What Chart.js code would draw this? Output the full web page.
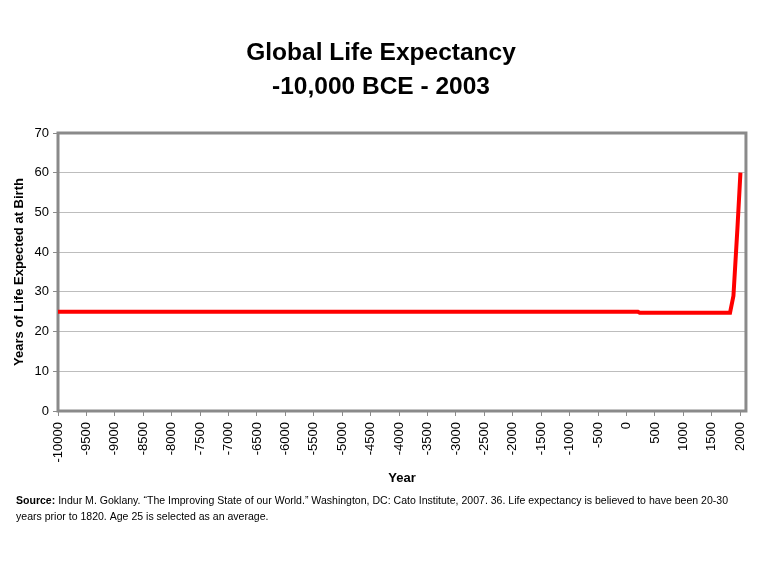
<!DOCTYPE html>
<html>
<head>
<meta charset="utf-8">
<title>Global Life Expectancy</title>
<script src="https://cdn.jsdelivr.net/npm/chart.js@4.4.1/dist/chart.umd.min.js"></script>
<style>
  html, body { margin: 0; padding: 0; background: #fff; }
  canvas { display: block; }
</style>
</head>
<body>
<canvas id="lifeChart" width="762" height="569"></canvas>
<script>
// Data
const years = [-10000, 200, 230, 1820, 1880, 1950, 2003];
const lifeExpectancy = [25, 25, 24.75, 24.75, 29, 46, 60];
const xTickValues = [-10000, -9500, -9000, -8500, -8000, -7500, -7000, -6500, -6000, -5500,
    -5000, -4500, -4000, -3500, -3000, -2500, -2000, -1500, -1000, -500,
    0, 500, 1000, 1500, 2000];
const yTickStep = 10;

const titleLines = ['Global Life Expectancy', '-10,000 BCE - 2003'];
const sourceLabel = 'Source:';
const sourceLine1 = ' Indur M. Goklany. \u201cThe Improving State of our World.\u201d Washington, DC: Cato Institute, 2007. 36. Life expectancy is believed to have been 20-30';
const sourceLine2 = 'years prior to 1820. Age 25 is selected as an average.';

const FONT = '"Liberation Sans", Arial, Helvetica, sans-serif';

// Plot frame + title + source note
const decorations = {
    id: 'decorations',
    beforeDatasetsDraw(chart) {
        const { ctx, chartArea: a } = chart;
        ctx.save();
        ctx.strokeStyle = '#8a8a8a';
        ctx.lineWidth = 3;
        ctx.strokeRect(a.left, a.top, a.right - a.left, a.bottom - a.top);
        ctx.restore();
    },
    afterDraw(chart) {
        const { ctx } = chart;
        ctx.save();
        ctx.fillStyle = '#000';
        ctx.textAlign = 'center';
        ctx.textBaseline = 'alphabetic';
        ctx.font = 'bold 24.5px ' + FONT;
        ctx.fillText(titleLines[0], 381, 60);
        ctx.fillText(titleLines[1], 381, 94);

        // source note, squeezed to the width used in the reference
        ctx.textAlign = 'left';
        ctx.font = 'bold 11px ' + FONT;
        const wBold = ctx.measureText(sourceLabel).width;
        ctx.font = '11px ' + FONT;
        const wRest = ctx.measureText(sourceLine1).width;
        const sx = Math.min(1, 712 / (wBold + wRest));
        ctx.translate(16, 0);
        ctx.scale(sx, 1);
        ctx.font = 'bold 11px ' + FONT;
        ctx.fillText(sourceLabel, 0, 504);
        ctx.font = '11px ' + FONT;
        ctx.fillText(sourceLine1, wBold, 504);
        ctx.fillText(sourceLine2, 0, 520);
        ctx.restore();
    }
};

new Chart(document.getElementById('lifeChart'), {
    type: 'line',
    data: {
        datasets: [{
            data: years.map((y, i) => ({ x: y, y: lifeExpectancy[i] })),
            borderColor: '#ff0000',
            borderWidth: 4,
            pointRadius: 0,
            tension: 0,
            fill: false
        }]
    },
    options: {
        responsive: false,
        animation: false,
        devicePixelRatio: 1,
        layout: { padding: { top: 133, right: 16, left: 0, bottom: 0 } },
        plugins: {
            legend: { display: false },
            tooltip: { enabled: false }
        },
        scales: {
            x: {
                type: 'linear',
                min: -10000,
                max: 2100,
                afterBuildTicks: (s) => { s.ticks = xTickValues.map(v => ({ value: v })); },
                afterFit: (s) => { s.height = 158; },
                border: { display: false },
                grid: { drawOnChartArea: false, tickLength: 5, color: '#8a8a8a', lineWidth: 1 },
                ticks: {
                    minRotation: 90,
                    maxRotation: 90,
                    padding: 6,
                    autoSkip: false,
                    color: '#000',
                    font: { family: FONT, size: 13 },
                    callback: (v) => String(v)
                },
                title: {
                    display: true,
                    text: 'Year',
                    color: '#000',
                    font: { family: FONT, size: 13, weight: 'bold' },
                    padding: { top: 0, bottom: 83 }
                }
            },
            y: {
                min: 0,
                max: 70,
                afterFit: (s) => { s.width = 58; },
                border: { display: false },
                grid: { color: '#bdbdbd', lineWidth: 1, tickLength: 5, tickColor: '#8a8a8a' },
                ticks: {
                    stepSize: yTickStep,
                    padding: 4,
                    color: '#000',
                    font: { family: FONT, size: 13 }
                },
                title: {
                    display: true,
                    text: 'Years of Life Expected at Birth',
                    color: '#000',
                    font: { family: FONT, size: 13, weight: 'bold' },
                    padding: { top: 12, bottom: 0 }
                }
            }
        }
    },
    plugins: [decorations]
});
</script>
</body>
</html>
